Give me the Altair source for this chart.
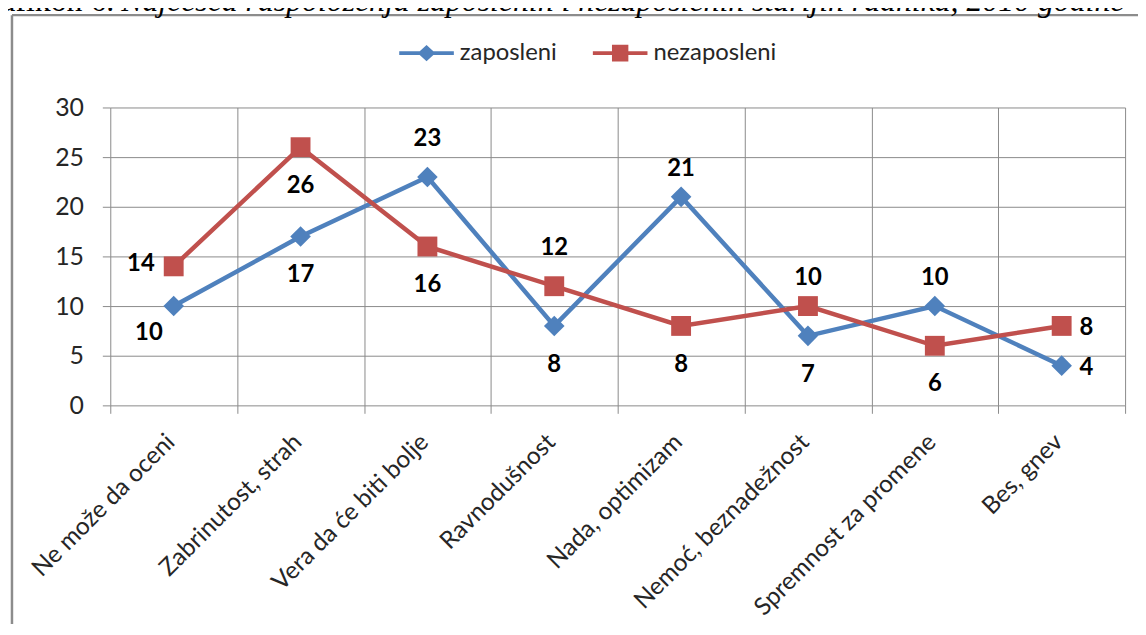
import altair as alt
import pandas as pd

# ---- data ----
categories = [
    "Ne može da oceni",
    "Zabrinutost, strah",
    "Vera da će biti bolje",
    "Ravnodušnost",
    "Nada, optimizam",
    "Nemoć, beznadežnost",
    "Spremnost za promene",
    "Bes, gnev",
]
zaposleni = [10, 17, 23, 8, 21, 7, 10, 4]
nezaposleni = [14, 26, 16, 12, 8, 10, 6, 8]
series_names = ["zaposleni", "nezaposleni"]
series_colors = ["#4F81BD", "#C0504D"]
y_ticks = [0, 5, 10, 15, 20, 25, 30]

# where each data label sits relative to its point (style only)
place_zaposleni = ["below-left", "below", "high", "below", "above", "below", "above", "right"]
place_nezaposleni = ["left", "below", "below", "high", "below", "above", "below", "right"]

title_lead = ["Grafikon 6."]
title_rest = ["Najčešća raspoloženja zaposlenih i nezaposlenih starijih radnika, 2010 godine"]

# ---- build table ----
rows = []
for cat, v, p in zip(categories, zaposleni, place_zaposleni):
    rows.append({"kategorija": cat, "vrednost": v, "serija": series_names[0], "mesto": p})
for cat, v, p in zip(categories, nezaposleni, place_nezaposleni):
    rows.append({"kategorija": cat, "vrednost": v, "serija": series_names[1], "mesto": p})
df = pd.DataFrame(rows)

FONT = "Lato"
GRID = "#8a8a8a"
TXT = "#262626"

x_enc = alt.X(
    "kategorija:N",
    sort=categories,
    scale=alt.Scale(type="band", domain=categories, paddingInner=0, paddingOuter=0),
    axis=alt.Axis(
        title=None,
        labelAngle=-45,
        labelAlign="right",
        labelBaseline="middle",
        labelFont=FONT,
        labelFontSize=24.5,
        labelColor=TXT,
        labelPadding=25,
        labelOffset=-3,
        labelLimit=500,
        tickBand="extent",
        tickSize=8,
        tickColor=GRID,
        tickWidth=1,
        grid=True,
        gridColor=GRID,
        gridWidth=1,
        gridOpacity=1,
        domain=False,
    ),
)
y_enc = alt.Y(
    "vrednost:Q",
    scale=alt.Scale(domain=[0, 30], nice=False, zero=True),
    axis=alt.Axis(
        title=None,
        values=y_ticks,
        labelFont=FONT,
        labelFontSize=25,
        labelColor=TXT,
        labelPadding=19,
        tickSize=8,
        tickColor=GRID,
        tickWidth=1,
        grid=True,
        gridColor=GRID,
        gridWidth=1,
        gridOpacity=1,
        domain=False,
    ),
)

color_scale = alt.Scale(domain=series_names, range=series_colors)

base = alt.Chart(df)

series_layers = []
for name, col in zip(series_names, series_colors):
    sub = base.transform_filter(alt.datum.serija == name)
    series_layers.append(sub.mark_line(strokeWidth=4.5, color=col).encode(x=x_enc, y=y_enc))
for name, col, shp, sz in zip(series_names, series_colors, ["diamond", "square"], [430, 400]):
    sub = base.transform_filter(alt.datum.serija == name)
    series_layers.append(
        sub.mark_point(shape=shp, filled=True, size=sz, opacity=1, color=col).encode(x=x_enc, y=y_enc)
    )

offsets = {
    "above": (0, -28),
    "high": (0, -38),
    "below": (0, 39),
    "left": (-33, -2),
    "right": (25, 2),
    "below-left": (-25, 27),
}
label_layers = []
for place, (dx, dy) in offsets.items():
    label_layers.append(
        base.transform_filter(alt.datum.mesto == place)
        .mark_text(
            font=FONT, fontSize=24, fontWeight="bold", color="#000000",
            align="center", baseline="middle", dx=dx, dy=dy,
        )
        .encode(x=x_enc, y=y_enc, text="vrednost:Q")
    )

# legend: line + marker symbols drawn through the library's legend
diamond_path = ("M-1,-0.07 L-0.25,-0.07 L0,-0.3 L0.25,-0.07 L1,-0.07 L1,0.07 "
                "L0.25,0.07 L0,0.3 L-0.25,0.07 L-1,0.07 Z")
square_path = ("M-1,-0.07 L-0.3,-0.07 L-0.3,-0.31 L0.3,-0.31 L0.3,-0.07 L1,-0.07 L1,0.07 "
               "L0.3,0.07 L0.3,0.31 L-0.3,0.31 L-0.3,0.07 L-1,0.07 Z")
legend_layer = base.mark_point(filled=True, opacity=0, size=0).encode(
    x=x_enc,
    y=y_enc,
    color=alt.Color("serija:N", scale=color_scale, legend=alt.Legend(title=None, symbolOpacity=1)),
    shape=alt.Shape(
        "serija:N",
        scale=alt.Scale(domain=series_names, range=[diamond_path, square_path]),
        legend=alt.Legend(title=None, symbolOpacity=1),
    ),
)

# outer frame and cut-off caption
one = pd.DataFrame({"k": [0]})
frame_left = alt.Chart(one).mark_rule(color="#8c8c8c", strokeWidth=2.5).encode(
    x=alt.value(-99), y=alt.value(-93), y2=alt.value(700)
)
frame_top = alt.Chart(one).mark_rule(color="#8c8c8c", strokeWidth=2.5).encode(
    x=alt.value(-99), x2=alt.value(1200), y=alt.value(-93)
)
cap1 = alt.Chart(pd.DataFrame({"t": title_lead})).mark_text(
    font="Liberation Serif", fontSize=32, align="right", baseline="alphabetic", color="#000"
).encode(text="t:N", x=alt.value(4), y=alt.value(-97))
cap2 = alt.Chart(pd.DataFrame({"t": title_rest})).mark_text(
    font="Liberation Serif", fontSize=32, fontStyle="italic", align="left", baseline="alphabetic", color="#000"
).encode(text="t:N", x=alt.value(11), y=alt.value(-97))

chart = alt.layer(
    frame_left, frame_top, cap1, cap2, *series_layers, *label_layers, legend_layer
).properties(
    width=1022,
    height=300,
    padding={"left": 103, "top": 98, "right": 13, "bottom": 218},
    autosize=alt.AutoSizeParams(type="none"),
).configure_view(
    stroke=None
).configure_legend(
    orient="none",
    legendX=291,
    legendY=-82.5,
    direction="horizontal",
    symbolSize=3025,
    symbolStrokeWidth=0,
    labelFont=FONT,
    labelFontSize=24,
    labelColor=TXT,
    labelOffset=6,
    columnPadding=36,
    padding=0,
)

chart.save("out.html", embed_options={"renderer": "svg", "actions": False})
